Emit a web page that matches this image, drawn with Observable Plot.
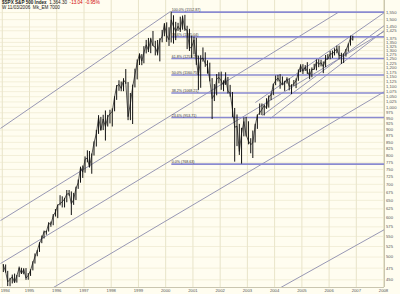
<!DOCTYPE html>
<html><head><meta charset="utf-8">
<script src="https://cdn.jsdelivr.net/npm/d3@7"></script>
<script src="https://cdn.jsdelivr.net/npm/@observablehq/plot@0.6"></script>
<style>
html,body{margin:0;padding:0;background:#fffdf0;}
#wrap{position:relative;width:400px;height:294px;overflow:hidden;}
#hdr{position:absolute;left:2px;top:0px;font-family:Arial,"Liberation Sans",sans-serif;font-size:4.6px;line-height:5px;color:#222;white-space:nowrap;}
#hdr b{font-weight:bold}
#hdr .neg{color:#d00000}
svg{display:block}
</style></head><body>
<div id="wrap"><div id="chart"></div>
<div id="hdr"><b>$SPX S&amp;P 500 Index</b> &nbsp;1,364.30 &nbsp;<span class="neg">-13.04 &nbsp;-0.95%</span><br>W 11/03/2006 &nbsp;Mk_EM 7000</div></div>
<script>
// Monthly S&P 500 data, Jan 1994 .. Nov 2006
const firstYear = 1994;
const closes = [
481.6,467.1,445.8,450.9,456.5,444.3,458.3,475.5,462.7,472.4,453.7,459.3,
470.4,487.4,500.7,514.7,533.4,544.8,562.1,561.9,584.4,581.5,605.4,615.9,
636.0,640.4,645.5,654.2,669.1,670.6,639.9,652.0,687.3,705.3,757.0,740.7,
786.2,790.8,757.1,801.3,848.3,885.1,954.3,899.5,947.3,914.6,955.4,970.4,
980.3,1049.3,1101.8,1111.8,1090.8,1133.8,1120.7,957.3,1017.0,1098.7,1163.6,1229.2,
1279.6,1238.3,1286.4,1335.2,1301.8,1372.7,1328.7,1320.4,1282.7,1362.9,1388.9,1469.3,
1394.5,1366.4,1498.6,1452.4,1420.6,1454.6,1430.8,1517.7,1436.5,1429.4,1315.2,1320.3,
1366.0,1239.9,1160.3,1249.5,1255.8,1224.4,1211.2,1133.6,1040.9,1059.8,1139.5,1148.1,
1130.2,1106.7,1147.4,1076.9,1067.1,989.8,911.6,916.1,815.3,885.8,936.3,879.8,
855.7,841.2,848.2,916.9,963.6,974.5,990.3,1008.0,996.0,1050.7,1058.2,1111.9,
1131.1,1144.9,1126.2,1107.3,1120.7,1140.8,1101.7,1104.2,1114.6,1130.2,1173.8,1211.9,
1181.3,1203.6,1180.6,1156.9,1191.5,1191.3,1234.2,1220.3,1228.8,1207.0,1249.5,1248.3,
1280.1,1280.7,1294.8,1310.6,1270.1,1270.2,1276.7,1303.8,1335.8,1377.9,1364.3];
const highs = [
482.9,482.0,468.0,453.1,460.0,462.1,459.3,477.3,474.7,473.8,474.0,463.3,
471.4,489.2,507.2,515.2,534.2,551.1,563.8,563.8,586.0,587.8,608.6,622.9,
636.4,664.2,660.7,656.2,680.3,680.3,675.9,671.4,690.9,714.1,758.0,762.1,
794.7,817.4,814.9,805.6,851.9,898.7,961.9,954.3,963.6,983.1,963.1,986.2,
992.7,1050.0,1105.7,1130.5,1123.9,1141.2,1190.6,1121.0,1066.1,1107.7,1192.9,1244.9,
1280.4,1276.0,1323.8,1362.8,1375.0,1375.9,1420.3,1357.1,1362.0,1373.2,1427.0,1473.1,
1478.0,1444.6,1552.9,1527.2,1481.5,1474.6,1517.3,1525.2,1530.1,1454.8,1434.3,1389.1,
1383.4,1376.4,1267.4,1269.3,1315.9,1286.6,1239.8,1226.3,1141.8,1110.6,1163.4,1173.6,
1176.6,1130.2,1173.0,1147.8,1106.6,1070.7,994.5,965.0,924.0,907.4,951.6,954.3,
935.1,864.6,895.9,924.2,965.4,1015.3,1015.4,1011.0,1040.3,1053.8,1063.7,1112.6,
1155.4,1158.9,1163.2,1150.6,1127.7,1146.3,1140.8,1109.7,1131.5,1140.1,1188.5,1217.3,
1217.8,1212.4,1229.1,1191.9,1199.6,1219.6,1245.2,1245.9,1243.1,1233.3,1270.6,1275.8,
1294.9,1297.6,1310.9,1326.7,1326.7,1284.0,1280.4,1306.7,1340.3,1389.5,1389.5];
const lows = [
465.4,464.3,436.2,435.9,441.6,442.9,443.2,454.7,461.3,460.7,448.9,449.1,
457.2,469.0,484.1,500.7,510.9,531.9,543.6,553.2,561.3,573.8,578.0,601.7,
597.3,633.7,627.6,627.6,642.8,662.6,605.9,635.2,649.4,684.0,703.8,719.6,
737.0,773.4,756.1,733.5,798.0,832.0,882.0,895.8,897.7,855.3,912.6,925.9,
912.8,979.2,1032.4,1076.7,1074.4,1074.6,1112.4,939.9,939.9,923.3,1093.7,1135.0,
1213.1,1212.2,1223.1,1280.0,1288.0,1281.4,1325.8,1268.4,1268.5,1233.7,1347.7,1385.8,
1350.1,1325.1,1346.6,1339.4,1361.1,1420.6,1413.9,1428.7,1421.1,1305.8,1294.9,1254.1,
1274.6,1214.0,1081.2,1091.9,1232.0,1203.0,1165.5,1124.9,944.8,1026.8,1054.3,1114.9,
1081.7,1074.4,1106.7,1063.5,1048.0,952.9,775.7,833.4,800.2,768.6,872.1,871.8,
840.3,806.3,788.9,847.9,902.8,963.4,962.1,960.8,990.4,996.0,1031.2,1055.0,
1105.1,1124.4,1087.2,1107.2,1076.3,1113.3,1078.8,1060.7,1101.3,1090.2,1127.6,1173.8,
1163.8,1180.0,1163.7,1136.2,1146.2,1188.3,1183.6,1201.1,1205.4,1168.2,1201.1,1246.6,
1245.7,1253.6,1268.0,1280.9,1245.3,1219.3,1224.5,1261.3,1290.9,1327.1,1360.0];

// Fibonacci retracement (2000 high -> 2002 low)
const fibStart = "2000-03-24";
const fibPcts = ["100.0%","78.6%","61.8%","50.0%","38.2%","23.6%","0.0%"];
const fibVals = [1552.87,1385.04,1253.29,1160.75,1068.21,953.71,768.63];

// Trend / channel lines: [date1, price1, date2, price2]
const trendA = ["1993-12-08", 906.7, "2000-03-06", 1557.8];
const trendB = ["1993-12-08", 592.0, "2006-05-08", 1552.87];
const trendC = ["1993-12-08", 485.2, "2008-01-10", 1420.6];
const trendD = ["1995-09-12", 428.4, "2008-01-14", 1075.7];
const trendE = ["2004-01-13", 428.4, "2008-01-14", 567.9];
const chanA  = ["2003-04-18", 1022.2, "2008-01-20", 1552.87];
const chanB  = ["2003-07-21", 962.9, "2008-01-14", 1460.6];
const chanC  = ["2003-11-06", 949.6, "2008-01-14", 1427.3];

// Axis ticks
const yearLabels = ["1994","1995","1996","1997","1998","1999","2000","2001","2002","2003","2004","2005","2006","2007","2008"];
const priceTicks = [1550,1500,1450,1425,1375,1350,1325,1300,1275,1250,1225,1200,1175,1150,1125,1100,1075,1050,1025,1000,
  975,950,925,900,875,850,825,800,775,750,725,700,675,650,625,600,575,550,525,500,475,450];

const bars = closes.map((c, i) => ({date: new Date(Date.UTC(firstYear, i, 15)), close: c, high: highs[i], low: lows[i]}));
const fibs = fibVals.map((v, i) => ({value: v, label: `${fibPcts[i]} (${v.toFixed(2)})`}));
const trends = [trendA, trendB, trendC, trendD, trendE, chanA, chanB, chanC].map(t => ({
  x1: new Date(t[0]), y1: t[1], x2: new Date(t[2]), y2: t[3]}));
const yearDates = yearLabels.map(y => new Date(Date.UTC(+y, 0, 1)));
const xDomain = [new Date("1993-12-08"), new Date("2008-01-14")];

const chart = Plot.plot({
  width: 400, height: 294,
  marginLeft: 0, marginRight: 16, marginTop: 0, marginBottom: 7,
  style: {background: "transparent", fontFamily: "Arial, 'Liberation Sans', sans-serif", fontSize: "4.5px", color: "#444"},
  x: {type: "utc", domain: xDomain, axis: null},
  y: {type: "log", domain: [434.3, 1639], axis: null},
  marks: [
    Plot.gridX(yearDates, {stroke: "#e2ddbf", strokeOpacity: 1, strokeWidth: 0.8}),
    Plot.gridY(priceTicks, {stroke: "#ebe6ca", strokeOpacity: 1, strokeWidth: 0.6}),
    Plot.ruleY([434.3], {stroke: "#bdb8a0", strokeWidth: 0.8}),
    Plot.ruleX([xDomain[1]], {stroke: "#bdb8a0", strokeWidth: 0.8}),
    Plot.axisY(priceTicks, {anchor: "right", tickSize: 0, tickPadding: 1.5, tickFormat: d3.format(","), fontSize: 4.2, fill: "#555"}),
    Plot.axisX(yearDates.slice(0, 1), {anchor: "bottom", tickSize: 0, tickPadding: 1.5, dx: 3, tickFormat: d3.utcFormat("%Y"), fontSize: 4.2, fill: "#555"}),
    Plot.axisX(yearDates.slice(1), {anchor: "bottom", tickSize: 0, tickPadding: 1.5, tickFormat: d3.utcFormat("%Y"), fontSize: 4.2, fill: "#555"}),
    Plot.link(trends, {x1: "x1", y1: "y1", x2: "x2", y2: "y2", stroke: "#8c8cae", strokeWidth: 0.9, clip: true}),
    Plot.ruleY(fibs, {y: "value", x1: new Date(fibStart), x2: xDomain[1], stroke: "#8a8ad0", strokeWidth: 1.6}),
    Plot.text(fibs, {y: "value", x: new Date(fibStart), text: "label", textAnchor: "start", dy: -2, fontSize: 3.6, fill: "#333"}),
    Plot.ruleX(bars, {x: "date", y1: "low", y2: "high", stroke: "#111", strokeWidth: 1.0}),
    Plot.line(bars, {x: "date", y: "close", stroke: "#111", strokeWidth: 0.7})
  ]
});
document.getElementById("chart").appendChild(chart);
</script>
</body></html>
